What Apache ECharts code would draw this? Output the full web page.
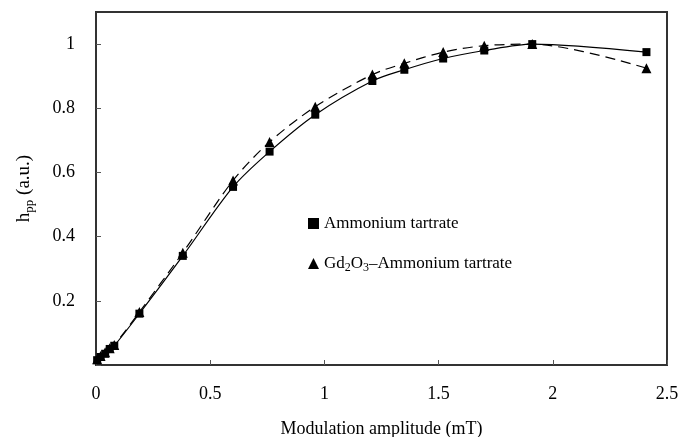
<!DOCTYPE html>
<html>
<head>
<meta charset="utf-8">
<script src="https://cdn.jsdelivr.net/npm/echarts@6/dist/echarts.min.js"></script>
<style>
  html, body { margin: 0; padding: 0; background: #fff; }
  #eCharts { width: 680px; height: 437px; }
</style>
</head>
<body>
<div id="eCharts"></div>
<script>
// modulation amplitude (mT)
var xVals = [0.005, 0.02, 0.04, 0.06, 0.08, 0.19, 0.38, 0.6, 0.76, 0.96, 1.21, 1.35, 1.52, 1.7, 1.91, 2.41];
// normalized hpp
var ammonium = [0.015, 0.025, 0.035, 0.05, 0.06, 0.16, 0.34, 0.555, 0.665, 0.78, 0.885, 0.92, 0.955, 0.98, 1.0, 0.975];
var gdAmmonium = [0.018, 0.028, 0.04, 0.052, 0.062, 0.165, 0.35, 0.575, 0.695, 0.805, 0.905, 0.94, 0.975, 0.995, 1.0, 0.925];
var seriesNames = ['Ammonium tartrate', 'Gd2O3-Ammonium tartrate'];

var font = 'Liberation Serif, Times New Roman, serif';

function pairs(ys) {
    var out = [];
    for (var i = 0; i < xVals.length; i++) out.push([xVals[i], ys[i]]);
    return out;
}

var myChart = echarts.init(document.getElementById('eCharts'));

var option = {
    backgroundColor: '#fff',
    animation: false,
    textStyle: {fontFamily: font, color: '#000'},
    grid: {
        left: 96, right: 13, top: 12, bottom: 72,
        outerBoundsMode: 'none',
        containLabel: false,
        show: true, borderColor: '#333', borderWidth: 2
    },
    legend: {
        orient: 'vertical',
        left: 303, top: 210,
        itemGap: 23,
        itemWidth: 11, itemHeight: 11,
        data: [
            {name: seriesNames[0], icon: 'rect'},
            {name: seriesNames[1], icon: 'triangle'}
        ],
        formatter: function (name) {
            if (name === seriesNames[1]) {
                return '{n|Gd}{s|2}{n|O}{s|3}{n|\u2013Ammonium tartrate}';
            }
            return '{n|' + name + '}';
        },
        textStyle: {
            fontFamily: font, color: '#000',
            rich: {
                n: {fontFamily: font, fontSize: 17, color: '#000'},
                s: {fontFamily: font, fontSize: 12, color: '#000', padding: [9, 0, 0, 0]}
            }
        }
    },
    xAxis: {
        type: 'value',
        min: 0, max: 2.5, interval: 0.5,
        name: 'Modulation amplitude (mT)',
        nameLocation: 'middle',
        nameGap: 55,
        nameTextStyle: {fontFamily: font, fontSize: 18, color: '#000'},
        axisLine: {lineStyle: {color: '#333', width: 2}},
        axisTick: {inside: true, length: 5, lineStyle: {color: '#555'}},
        axisLabel: {margin: 20, fontFamily: font, fontSize: 18, color: '#000'},
        splitLine: {show: false}
    },
    yAxis: {
        type: 'value',
        min: 0, max: 1.1, interval: 0.2,
        name: '{n|h}{s|pp}{n| (a.u.)}',
        nameLocation: 'middle',
        nameGap: 60,
        nameTextStyle: {
            fontFamily: font, fontSize: 18, color: '#000',
            rich: {
                n: {fontFamily: font, fontSize: 19, color: '#000'},
                s: {fontFamily: font, fontSize: 13, color: '#000', padding: [10, 0, 0, 0]}
            }
        },
        axisLine: {lineStyle: {color: '#333', width: 2}},
        axisTick: {inside: true, length: 5, lineStyle: {color: '#555'}},
        axisLabel: {
            margin: 21, fontFamily: font, fontSize: 18, color: '#000',
            showMaxLabel: false,
            formatter: function (v) { return v === 0 ? '' : String(v); }
        },
        splitLine: {show: false}
    },
    series: [
        {
            name: seriesNames[0],
            type: 'line',
            data: pairs(ammonium),
            smooth: 0.3,
            symbol: 'rect',
            symbolSize: 8,
            itemStyle: {color: '#000'},
            lineStyle: {color: '#000', width: 1.2}
        },
        {
            name: seriesNames[1],
            type: 'line',
            data: pairs(gdAmmonium),
            smooth: 0.3,
            symbol: 'triangle',
            symbolSize: 10,
            itemStyle: {color: '#000'},
            lineStyle: {color: '#000', width: 1.2, type: [10, 6]}
        }
    ]
};

myChart.setOption(option);
</script>
</body>
</html>
